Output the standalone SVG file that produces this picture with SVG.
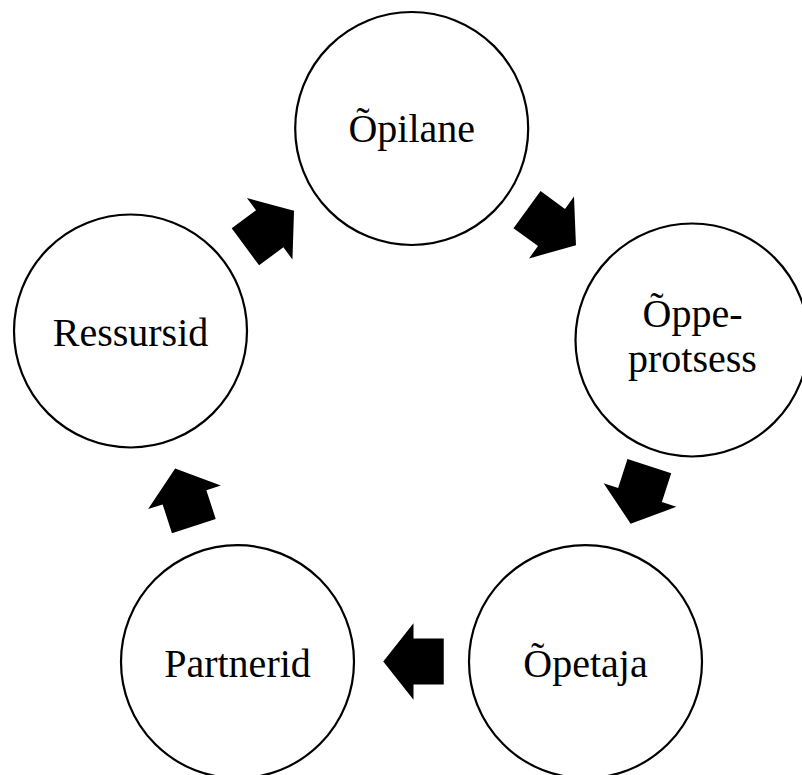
<svg xmlns="http://www.w3.org/2000/svg" width="802" height="775" viewBox="0 0 802 775">
<defs>
<style>
.node circle{fill:#fff;stroke:#000;stroke-width:2.2}
.node text{font-family:"Liberation Serif","Times New Roman",serif;font-size:40px;fill:#000;text-anchor:middle}
.arr{fill:#000}
</style>
<polygon id="blk" class="arr" points="-30.25,-23 0,-23 0,-38.25 30.25,0 0,38.25 0,23 -30.25,23"/>
</defs>
<rect width="802" height="775" fill="#fff"/>
<g id="connectors">
<use href="#blk" transform="translate(269.7,228.8) rotate(-36.5)"/>
<use href="#blk" transform="translate(551.5,227.5) rotate(36)"/>
<use href="#blk" transform="translate(640,495) rotate(108)"/>
<use href="#blk" transform="translate(413.5,661.6) rotate(180)"/>
<use href="#blk" transform="translate(184.5,497.3) rotate(252)"/>
</g>
<g id="n1" class="node"><circle cx="411.7" cy="128.5" r="116.5"/><text x="411.7" y="142">Õpilane</text></g>
<g id="n2" class="node"><circle cx="692" cy="340" r="116.5"/><text x="692.5" y="327">Õppe-</text><text x="692.5" y="372">protsess</text></g>
<g id="n3" class="node"><circle cx="585.5" cy="661.7" r="116.5"/><text x="585.5" y="677">Õpetaja</text></g>
<g id="n4" class="node"><circle cx="237.5" cy="661.7" r="116.5"/><text x="237.5" y="677">Partnerid</text></g>
<g id="n5" class="node"><circle cx="130.5" cy="331" r="116.5"/><text x="130.5" y="346">Ressursid</text></g>
</svg>
